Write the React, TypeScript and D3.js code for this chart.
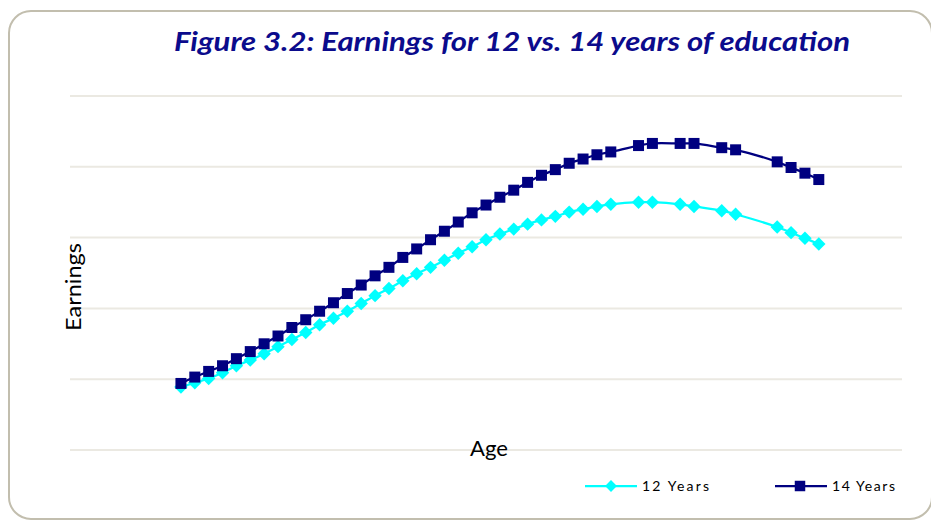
import React from 'react';
import * as d3 from 'd3';

// ages in the sample (some ages are missing in the source table)
const ages = [
  18, 19, 20, 21, 22, 23, 24, 25, 26, 27, 28, 29, 30, 31, 32, 33, 34, 35, 36, 37,
  38, 39, 40, 41, 42, 43, 44, 45, 46, 47, 48, 49, 51, 52, 54, 55, 57, 58, 61, 62, 63, 64,
];

// earnings (thousands) for 12 years of education
const years12 = [
  8.9, 9.5, 10.1, 10.9, 11.9, 12.7, 13.6, 14.6, 15.6, 16.6, 17.7, 18.6, 19.6, 20.7, 21.8, 22.8,
  23.9, 24.9, 25.8, 26.8, 27.8, 28.7, 29.7, 30.5, 31.2, 31.9, 32.5, 33.0, 33.6, 34.0, 34.4, 34.7,
  35.0, 35.0, 34.7, 34.4, 33.8, 33.3, 31.5, 30.7, 29.9, 29.1,
];

// earnings (thousands) for 14 years of education
const years14 = [
  9.4, 10.3, 11.1, 11.9, 12.9, 13.9, 15.0, 16.1, 17.3, 18.4, 19.6, 20.8, 22.1, 23.3, 24.6, 25.8,
  27.2, 28.4, 29.7, 30.9, 32.2, 33.5, 34.6, 35.7, 36.7, 37.8, 38.8, 39.6, 40.5, 41.1, 41.7, 42.1,
  43.0, 43.3, 43.3, 43.3, 42.7, 42.4, 40.7, 39.9, 39.1, 38.2,
];

const gridValues = [0, 10, 20, 30, 40, 50];

const W = 931;
const H = 520;
const font = "Lato, 'Open Sans', sans-serif";

const App = () => {
  const x = d3.scaleLinear().domain([10, 70]).range([70, 902]);
  const y = d3.scaleLinear().domain([0, 50]).range([450, 96]);

  const line = d3
    .line<[number, number]>()
    .x((d) => x(d[0]))
    .y((d) => y(d[1]))
    .curve(d3.curveCatmullRom.alpha(0.5));

  const pts12: [number, number][] = ages.map((a, i) => [a, years12[i]]);
  const pts14: [number, number][] = ages.map((a, i) => [a, years14[i]]);

  const square = d3.symbol().type(d3.symbolSquare).size(121)();
  const diamond = d3.symbol().type(d3.symbolSquare).size(90)();
  const squareSmall = d3.symbol().type(d3.symbolSquare).size(110)();
  const diamondSmall = d3.symbol().type(d3.symbolSquare).size(70)();

  const navy = '#000080';
  const cyan = '#00ffff';

  return (
    <div style={{ position: 'absolute', left: 0, top: 0 }}>
      <svg width={W} height={H} style={{ display: 'block', background: '#fff' }}>
        <rect x={9} y={11} width={923} height={508} rx={22} ry={22}
          fill="#fff" stroke="#c2beae" strokeWidth={2} />

        <text x={174} y={51} fill="#0b0b8c" textLength={676} lengthAdjust="spacingAndGlyphs"
          fontFamily={font} fontWeight="bold" fontStyle="italic" fontSize={27}>
          Figure 3.2: Earnings for 12 vs. 14 years of education
        </text>

        {gridValues.map((v) => (
          <line key={v} x1={70} x2={902} y1={y(v)} y2={y(v)} stroke="#ebe9e2" strokeWidth={2} />
        ))}

        <text transform={`translate(81,287) rotate(-90)`} textAnchor="middle" fill="#000"
          fontFamily={font} fontSize={21} textLength={88} lengthAdjust="spacingAndGlyphs">
          Earnings
        </text>
        <text x={489} y={456} textAnchor="middle" fill="#000"
          fontFamily={font} fontSize={22} textLength={38} lengthAdjust="spacingAndGlyphs">
          Age
        </text>

        <path d={line(pts12) ?? ''} fill="none" stroke={cyan} strokeWidth={2.25} />
        {pts12.map((d, i) => (
          <path key={'c' + i} d={diamond ?? ''} fill={cyan}
            transform={`translate(${x(d[0])},${y(d[1])}) rotate(45)`} />
        ))}

        <path d={line(pts14) ?? ''} fill="none" stroke={navy} strokeWidth={2.25} />
        {pts14.map((d, i) => (
          <path key={'n' + i} d={square ?? ''} fill={navy}
            transform={`translate(${x(d[0])},${y(d[1])})`} />
        ))}

        <g fontFamily={font} fontSize={14} fill="#000">
          <line x1={585} x2={637} y1={486} y2={486} stroke={cyan} strokeWidth={2.25} />
          <path d={diamondSmall ?? ''} fill={cyan} transform="translate(611,486) rotate(45)" />
          <text x={642} y={491} textLength={67} lengthAdjust="spacing">12  Years</text>

          <line x1={775} x2={827} y1={486} y2={486} stroke={navy} strokeWidth={2.25} />
          <path d={squareSmall ?? ''} fill={navy} transform="translate(800,486)" />
          <text x={832} y={491} textLength={63} lengthAdjust="spacing">14 Years</text>
        </g>
      </svg>
    </div>
  );
};

export default App;
